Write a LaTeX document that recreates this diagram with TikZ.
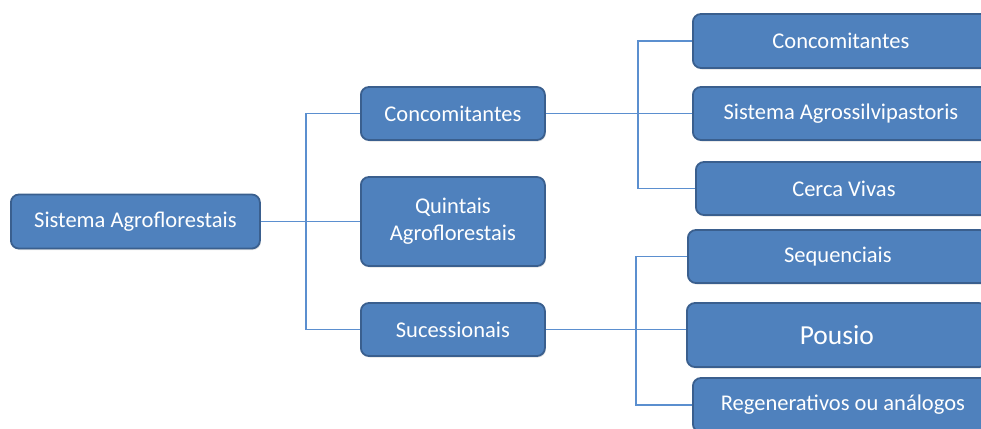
\documentclass[tikz,border=0pt]{standalone}
\usepackage{fontspec}
\setmainfont{Carlito}
\usepackage{tikz}
\usetikzlibrary{positioning,shadows}
\definecolor{SABlue}{HTML}{4F81BD}
\definecolor{SAEdge}{HTML}{3A5F8E}
\definecolor{SALine}{HTML}{5B8FCF}

\begin{document}
\begin{tikzpicture}[x=1pt,y=-1pt,
  box/.style={draw=SAEdge,line width=1.8pt,fill=SABlue,rounded corners=8pt,
    text=white,align=center,inner sep=2pt,
    font=\fontsize{22.5}{27}\selectfont,
    drop shadow={opacity=0.25,shadow xshift=1pt,shadow yshift=-1.5pt}},
  midbox/.style={box,minimum width=184pt,minimum height=53pt},
  leaf/.style={box,minimum width=300pt,minimum height=54pt},
  link/.style={draw=SALine,line width=1.4pt}]
  \useasboundingbox (0,0) rectangle (981,428);
  \clip (0,0) rectangle (981,428);

  \node[box,anchor=west,minimum width=249pt,minimum height=54pt] (root) at (10,221.5) {Sistema Agroflorestais};

  \node[midbox,anchor=west] (conc) at (360,113.5) {Concomitantes};
  \node[midbox,anchor=west,minimum height=89pt] (quin) at (360,221.5) {Quintais\\Agroflorestais};
  \node[midbox,anchor=west] (suce) at (360,329.5) {Sucessionais};

  \node[leaf,anchor=west,minimum width=296pt] (c1) at (692,41) {Concomitantes};
  \node[leaf,anchor=west,minimum width=296pt,minimum height=53pt] (c2) at (692,113.5) {Sistema Agrossilvipastoris};
  \node[leaf,anchor=west,minimum width=296pt,minimum height=53pt] (c3) at (695,188.5) {Cerca Vivas};

  \node[leaf,anchor=west,minimum height=53pt] (s1) at (687,256.5) {Sequenciais};
  \node[leaf,anchor=west,minimum height=64pt,font=\fontsize{27.5}{32}\selectfont] (s2) at (686,335) {Pousio};
  \node[leaf,anchor=west] (s3) at (692,405) {Regenerativos ou análogos};

  \coordinate (f0) at (306,221.5);
  \coordinate (f1) at (638,113.5);
  \coordinate (f2) at (636,330);

  \draw[link] (root) -- (quin);
  \draw[link] (conc.west) -| (f0) |- (suce.west);
  \draw[link] (conc) -- (c2);
  \draw[link] (c1.west) -| (f1) |- (c3.west);
  \draw[link] (suce.east) -- (suce.east -| s2.west);
  \draw[link] (s1.west) -| (f2) |- (s3.west);
\end{tikzpicture}
\end{document}
